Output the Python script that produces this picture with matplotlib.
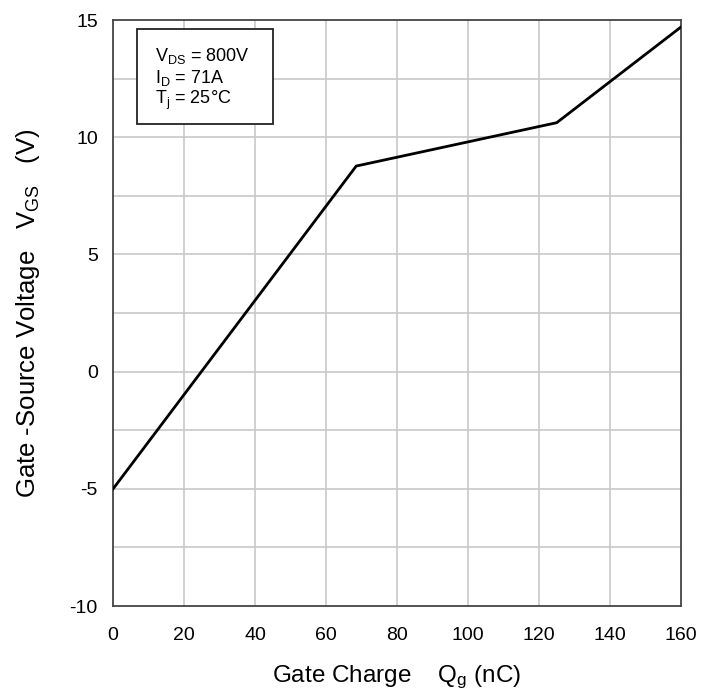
import matplotlib
matplotlib.use("Agg")
import matplotlib.pyplot as plt
from matplotlib.patches import Rectangle

plt.rcParams['font.family'] = ['Liberation Sans', 'DejaVu Sans']
plt.rcParams['mathtext.fontset'] = 'custom'
plt.rcParams['mathtext.rm'] = 'Liberation Sans'
plt.rcParams['mathtext.it'] = 'Liberation Sans'
plt.rcParams['axes.unicode_minus'] = False

qg = [0, 68.5, 125, 160]
vgs = [-5, 8.77, 10.62, 14.7]
xticks = [0, 20, 40, 60, 80, 100, 120, 140, 160]
yticks = [-10, -5, 0, 5, 10, 15]
ygrid = [-7.5, -5, -2.5, 0, 2.5, 5, 7.5, 10, 12.5]

fig = plt.figure(figsize=(7.16, 6.98), dpi=100)
ax = fig.add_axes([0.158, 0.1318, 0.793, 0.8395])

for y in ygrid:
    ax.axhline(y, color='#c8c8c8', lw=1.2, zorder=1)
for x in xticks[1:-1]:
    ax.axvline(x, color='#c8c8c8', lw=1.2, zorder=1)

ax.plot(qg, vgs, color='black', lw=2.0, zorder=3)

ax.set_xlim(0, 160)
ax.set_ylim(-10, 15)
ax.set_xticks(xticks)
ax.set_yticks(yticks)
ax.tick_params(length=0, labelsize=14)
ax.tick_params(axis='x', pad=15)
ax.tick_params(axis='y', pad=11)
for s in ax.spines.values():
    s.set_color('#444444')
    s.set_linewidth(1.3)

ax.set_xlabel(r'Gate Charge    Q$_{\mathrm{g}}$ (nC)', fontsize=17.5, labelpad=14)
ax.set_ylabel(r'Gate -Source Voltage   V$_{\mathrm{GS}}$   (V)', fontsize=18.5, labelpad=20)

ax.add_patch(Rectangle((0.042, 0.8225), 0.24, 0.162, transform=ax.transAxes,
                       fc='white', ec='#222222', lw=1.3, zorder=5))
ax.text(0.074, 0.899, 'V$_{\\mathrm{DS}}$ = 800V\nI$_{\\mathrm{D}}$ = 71A\nT$_{\\mathrm{j}}$ = 25\u00b0C',
        transform=ax.transAxes, fontsize=13, va='center', ha='left', linespacing=1.1,
        zorder=6)

fig.savefig('out.png', dpi=100)
